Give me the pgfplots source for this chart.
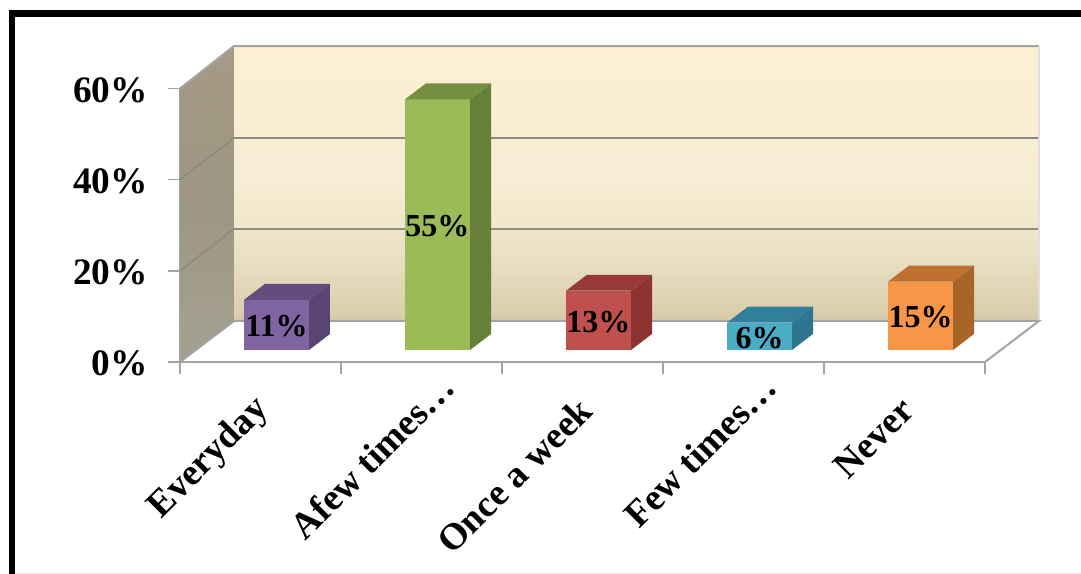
\documentclass[border=0pt]{standalone}
\usepackage{fontspec}
\setmainfont{Liberation Serif}
\usepackage{pgfplots}
\pgfplotsset{compat=1.18}
\definecolor{axgray}{HTML}{A3A3A0}
\definecolor{gridgray}{HTML}{8E8A7C}
\definecolor{wa}{HTML}{D8CBA9}
\definecolor{wb}{HTML}{EBE2C6}
\definecolor{wc}{HTML}{F6EDD4}
\definecolor{wd}{HTML}{FEEFD3}
\definecolor{la}{HTML}{A5A192}
\definecolor{lb}{HTML}{9D9682}
\definecolor{lc}{HTML}{A59A85}
\pgfdeclareverticalshading{wall}{100bp}{color(0bp)=(wa);color(25bp)=(wa);color(38bp)=(wb);color(50bp)=(wc);color(75bp)=(wd);color(100bp)=(wd)}
\pgfdeclareverticalshading{leftwall}{100bp}{color(0bp)=(la);color(25bp)=(la);color(50bp)=(lb);color(75bp)=(lc);color(100bp)=(lc)}
% one 3D bar: #1 category centre, #2 value, #3 half-value, #4 right edge, #5 left edge, #6 back right, #7 back left, #8 colour stem, #9 label
\newcommand{\barbox}[9]{%
  \pgfmathsetmacro{\topb}{#2+3.51}%
  \addplot[ybar,bar width=48.75pt,bar shift=0pt,draw=none,fill=#8a,shift={(12pt,9pt)}] coordinates {(#1,#2)};
  \edef\tmp{\noexpand\addplot[draw=none,fill=#8c,shift={(12pt,9pt)}] coordinates {(#4,0)(#6,3.51)(#6,\topb)(#4,#2)} --cycle;}\tmp
  \edef\tmp{\noexpand\addplot[draw=none,fill=#8b,shift={(12pt,9pt)}] coordinates {(#5,#2)(#4,#2)(#6,\topb)(#7,\topb)} --cycle;}\tmp
  \node[font=\fontsize{24}{24}\selectfont\bfseries,text=black,shift={(12pt,8pt)}] at (axis cs:#1,#3) {#9};
}
\definecolor{pua}{HTML}{8064A2}\definecolor{pub}{HTML}{624D7E}\definecolor{puc}{HTML}{594573}
\definecolor{gra}{HTML}{9BBB59}\definecolor{grb}{HTML}{738F3F}\definecolor{grc}{HTML}{677F38}
\definecolor{rea}{HTML}{C0504D}\definecolor{reb}{HTML}{973937}\definecolor{rec}{HTML}{8D3432}
\definecolor{bla}{HTML}{4BACC6}\definecolor{blb}{HTML}{327F9B}\definecolor{blc}{HTML}{2F7590}
\definecolor{ora}{HTML}{F79646}\definecolor{orb}{HTML}{BE7030}\definecolor{orc}{HTML}{A8652A}
\begin{document}
\begin{tikzpicture}[x=0.75pt,y=0.75pt]
\fill[white] (-180,-212) rectangle (901,362);
\fill[black] (-171,-212) rectangle (-165,351.5);
\fill[black] (-171,345) rectangle (901,351.5);
\fill[black!8] (-165,-212) rectangle (901,-210.5);
\begin{axis}[
  at={(0,0)},anchor=south west,
  scale only axis,width=603.75pt,height=205.1pt,
  xmin=0,xmax=5,ymin=0,ymax=60,
  clip=false,
  axis x line*=bottom,axis y line*=left,
  axis line style={draw=axgray,line width=1.6pt,-},
  tick align=outside,
  major tick length=9pt,
  tick style={draw=axgray,line width=1.2pt},
  xtick={0,1,2,3,4,5},xticklabels={},
  ytick={0,20,40,60},yticklabels={0\%,20\%,40\%,60\%},
  yticklabel style={font=\fontsize{28}{28}\selectfont\bfseries,inner sep=0pt,xshift=-15pt,yshift=-1pt},
  extra x ticks={0.5,1.5,2.5,3.5,4.5},
  extra x tick labels={Everyday,Afew times…\hspace*{-25pt},Once a week,Few times…\hspace*{-25pt},Never},
  extra x tick style={
    major tick length=0pt,
    tick label style={font=\fontsize{28}{28}\selectfont\bfseries,rotate=45,anchor=east,inner sep=0pt,xshift=-20.6pt,yshift=-24.1pt}},
]
% walls and floor
\path[shading=wall] (axis cs:0.3354,9) rectangle (axis cs:5.3354,69.33);
\path[shading=leftwall] (axis cs:0,0) -- (axis cs:0.3354,9) -- (axis cs:0.3354,69.33) -- (axis cs:0,60) -- cycle;
\draw[gridgray,line width=1.5pt] (axis cs:0.3354,29.18) -- (axis cs:5.3354,29.18);
\draw[gridgray,line width=1.5pt] (axis cs:0.3354,49.14) -- (axis cs:5.3354,49.14);
\draw[gridgray,line width=1.2pt] (axis cs:0,20) -- (axis cs:0.3354,29.18) ;
\draw[gridgray,line width=1.2pt] (axis cs:0,40) -- (axis cs:0.3354,49.14);
\draw[axgray,line width=1.5pt] (axis cs:0,60) -- (axis cs:0.3354,69.33) -- (axis cs:5.3354,69.33);
\draw[black!12,line width=1pt] (axis cs:5.3354,9) -- (axis cs:5.3354,69.33);
\draw[axgray,line width=1.5pt] (axis cs:0,0) -- (axis cs:0.3354,9) -- (axis cs:5.3354,9) -- (axis cs:5,0);
% bars
\barbox{0.5}{11}{5.5}{0.7019}{0.2981}{0.8323}{0.4285}{pu}{11\%}
\barbox{1.5}{55}{27.5}{1.7019}{1.2981}{1.8323}{1.4285}{gr}{55\%}
\barbox{2.5}{13}{6.5}{2.7019}{2.2981}{2.8323}{2.4285}{re}{13\%}
\barbox{3.5}{6}{3}{3.7019}{3.2981}{3.8323}{3.4285}{bl}{6\%}
\barbox{4.5}{15}{7.5}{4.7019}{4.2981}{4.8323}{4.4285}{or}{15\%}
\end{axis}
\end{tikzpicture}
\end{document}
